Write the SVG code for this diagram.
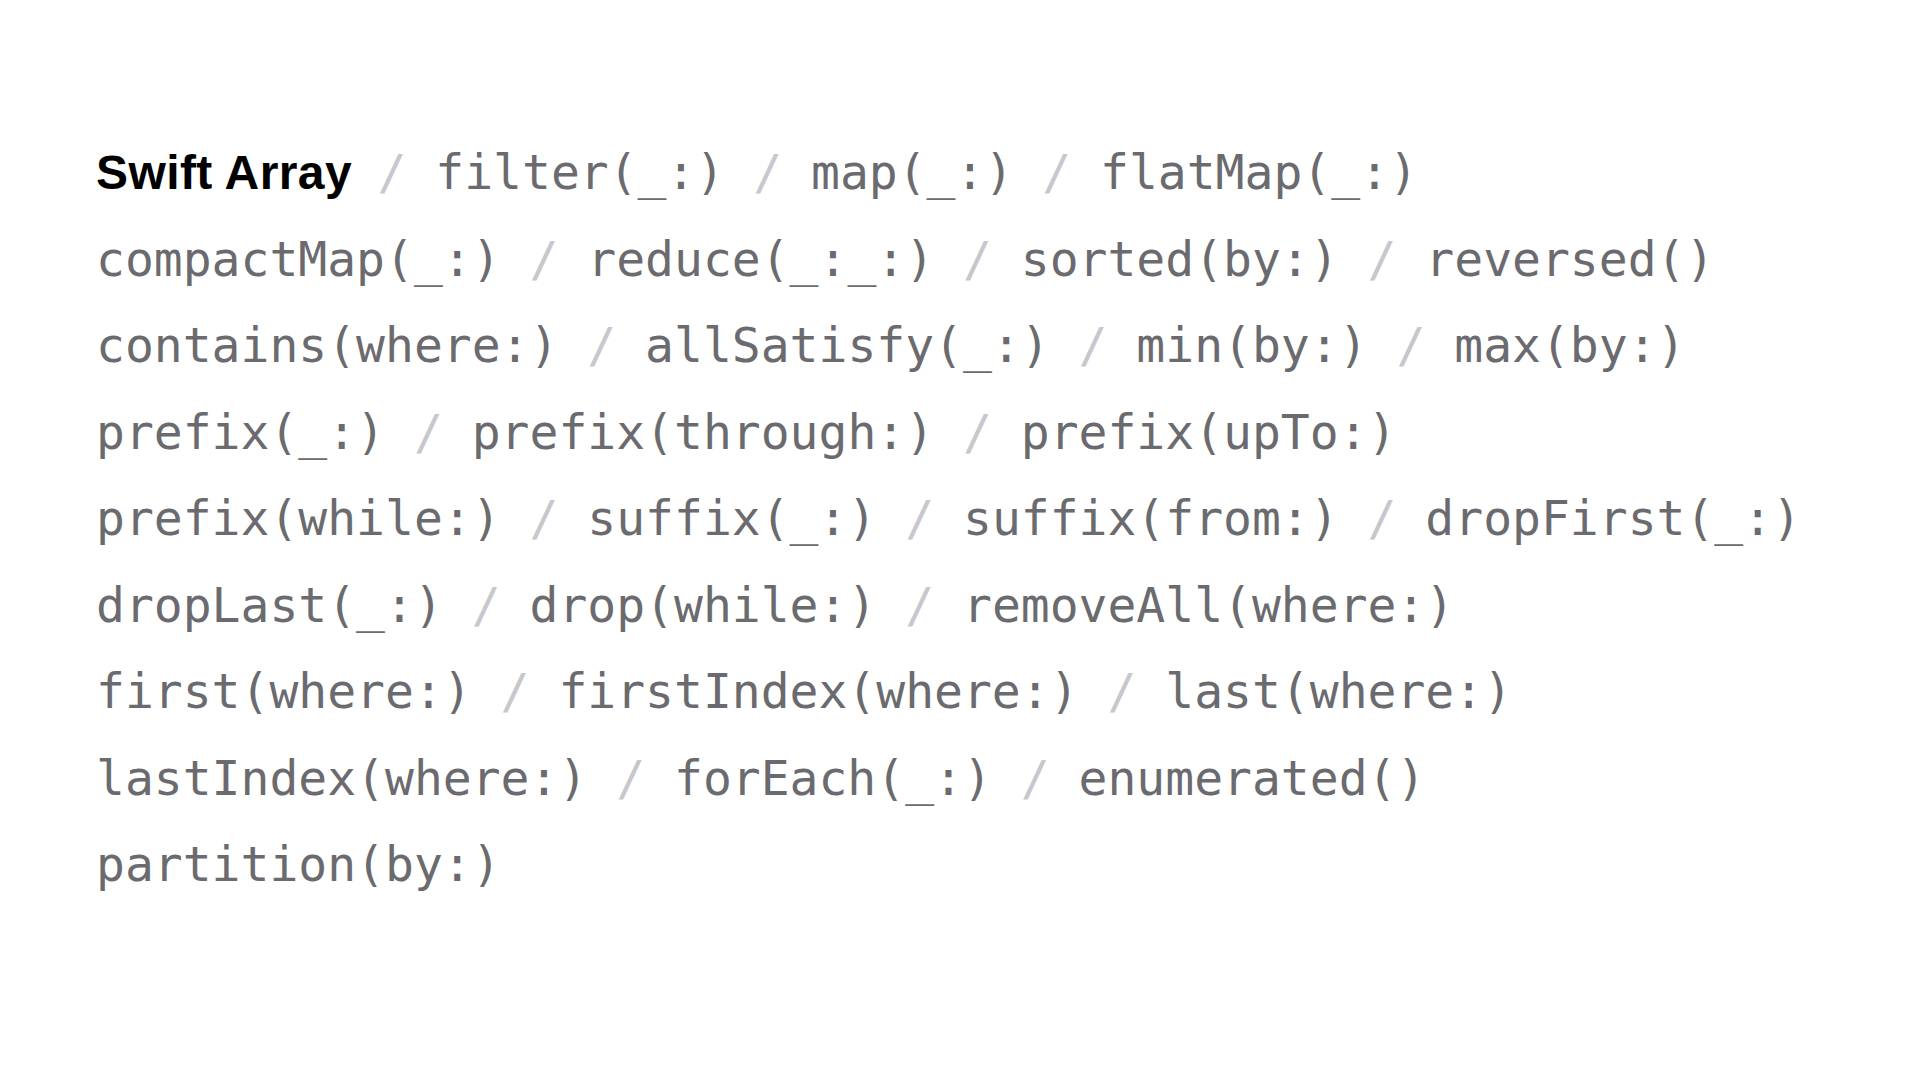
<svg xmlns="http://www.w3.org/2000/svg" width="1920" height="1080" viewBox="0 0 1920 1080">
<style>
.title{font-family:"Liberation Sans",Arial,sans-serif;font-weight:bold;font-size:48px;letter-spacing:0.4px;fill:#000000}
.m{font-family:"DejaVu Sans Mono","Liberation Mono",monospace;font-size:48px;fill:#6b6b6f;white-space:pre}
.s{fill:#c7c7cc}
</style>
<rect x="0" y="0" width="1920" height="1080" fill="#ffffff"/>
<g id="line1">
<text class="title" x="96" y="189">Swift Array</text>
<text class="m" x="348.6" y="189" xml:space="preserve"> <tspan class="s">/</tspan> filter(_:) <tspan class="s">/</tspan> map(_:) <tspan class="s">/</tspan> flatMap(_:)</text>
</g>
<g id="line2">
<text class="m" x="96" y="275.5" xml:space="preserve">compactMap(_:) <tspan class="s">/</tspan> reduce(_:_:) <tspan class="s">/</tspan> sorted(by:) <tspan class="s">/</tspan> reversed()</text>
</g>
<g id="line3">
<text class="m" x="96" y="362" xml:space="preserve">contains(where:) <tspan class="s">/</tspan> allSatisfy(_:) <tspan class="s">/</tspan> min(by:) <tspan class="s">/</tspan> max(by:)</text>
</g>
<g id="line4">
<text class="m" x="96" y="448.5" xml:space="preserve">prefix(_:) <tspan class="s">/</tspan> prefix(through:) <tspan class="s">/</tspan> prefix(upTo:)</text>
</g>
<g id="line5">
<text class="m" x="96" y="535" xml:space="preserve">prefix(while:) <tspan class="s">/</tspan> suffix(_:) <tspan class="s">/</tspan> suffix(from:) <tspan class="s">/</tspan> dropFirst(_:)</text>
</g>
<g id="line6">
<text class="m" x="96" y="621.5" xml:space="preserve">dropLast(_:) <tspan class="s">/</tspan> drop(while:) <tspan class="s">/</tspan> removeAll(where:)</text>
</g>
<g id="line7">
<text class="m" x="96" y="708" xml:space="preserve">first(where:) <tspan class="s">/</tspan> firstIndex(where:) <tspan class="s">/</tspan> last(where:)</text>
</g>
<g id="line8">
<text class="m" x="96" y="794.5" xml:space="preserve">lastIndex(where:) <tspan class="s">/</tspan> forEach(_:) <tspan class="s">/</tspan> enumerated()</text>
</g>
<g id="line9">
<text class="m" x="96" y="881" xml:space="preserve">partition(by:)</text>
</g>
</svg>
